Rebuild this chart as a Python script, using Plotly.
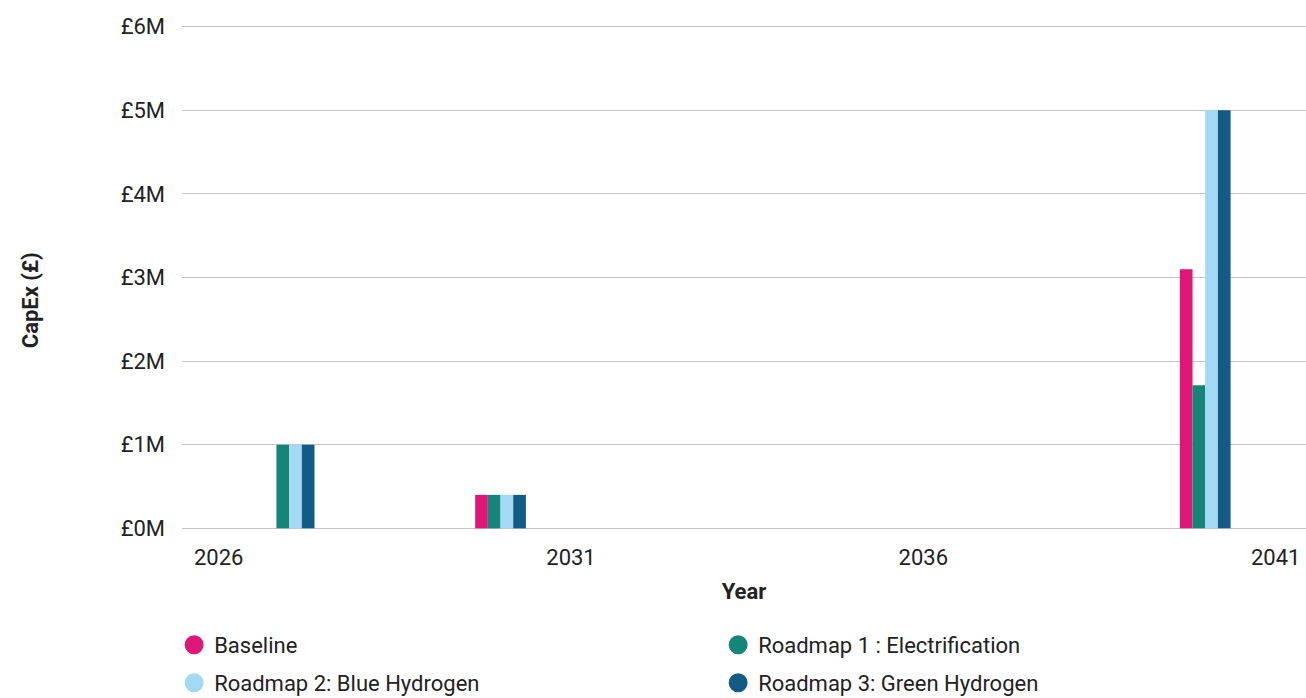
import plotly.graph_objects as go

years = [2027, 2030, 2040]
baseline = [0, 0.4e6, 3.1e6]
roadmap1 = [1.0e6, 0.4e6, 1.71e6]
roadmap2 = [1.0e6, 0.4e6, 5.0e6]
roadmap3 = [1.0e6, 0.4e6, 5.0e6]

series_names = ["Baseline", "Roadmap 1 : Electrification",
                "Roadmap 2: Blue Hydrogen", "Roadmap 3: Green Hydrogen"]
series_values = [baseline, roadmap1, roadmap2, roadmap3]
colors = ["#DF1776", "#15857A", "#A2D9F5", "#135B85"]

x_tickvals = [2026, 2031, 2036, 2041]
y_tickvals = [0, 1e6, 2e6, 3e6, 4e6, 5e6, 6e6]
y_ticktext = ["£0M", "£1M", "£2M", "£3M", "£4M", "£5M", "£6M"]

FONT = "Roboto"
TXT = "#222222"
FS = 22

bar_w = 0.18
fig = go.Figure()
for i, (name, vals, col) in enumerate(zip(series_names, series_values, colors)):
    fig.add_trace(go.Bar(x=years, y=vals, name=name,
                         width=bar_w, offset=-2 * bar_w + i * bar_w,
                         marker=dict(color=col, line=dict(width=0)),
                         showlegend=False))
# legend entries with circle markers (two legends -> two rows)
legend_ids = ["legend", "legend", "legend2", "legend2"]
for name, col, lg in zip(series_names, colors, legend_ids):
    fig.add_trace(go.Scatter(x=[None], y=[None], mode="markers", name=name, legend=lg,
                             marker=dict(color=col, size=16, symbol="circle",
                                         line=dict(color=col, width=3))))

leg_common = dict(orientation="h", x=-0.007, xanchor="left", yanchor="middle",
                  entrywidth=499, entrywidthmode="pixels",
                  font=dict(family=FONT, size=FS, color=TXT),
                  bgcolor="rgba(0,0,0,0)")

fig.update_layout(
    width=1306, height=698,
    margin=dict(l=182, r=0, t=25, b=168, autoexpand=False),
    paper_bgcolor="white", plot_bgcolor="white",
    font=dict(family=FONT, size=FS, color=TXT),
    barmode="overlay",
    legend=dict(y=-0.2277, **leg_common),
    legend2=dict(y=-0.303, **leg_common),
    annotations=[dict(text="<b>CapEx (£)</b>", textangle=-90, xref="paper", yref="paper",
                      x=-0.1352, y=0.455, xanchor="center", yanchor="middle",
                      showarrow=False, font=dict(family=FONT, size=FS, color=TXT))],
)
fig.update_xaxes(
    range=[2025.48, 2041.43], tickmode="array", tickvals=x_tickvals,
    showgrid=False, zeroline=False, showline=False, ticks="",
    ticklabelstandoff=12,
    tickfont=dict(family=FONT, size=FS, color=TXT),
    title=dict(text="<b>Year</b>", font=dict(family=FONT, size=FS, color=TXT), standoff=14),
)
fig.update_yaxes(
    range=[-0.02e6, 6.02e6], tickmode="array", tickvals=y_tickvals, ticktext=y_ticktext,
    showgrid=True, gridcolor="#C4C4C4", gridwidth=1.2, zeroline=False, showline=False, ticks="",
    ticklabelstandoff=16,
    tickfont=dict(family=FONT, size=FS, color=TXT),
)

fig.write_html("out.html")
